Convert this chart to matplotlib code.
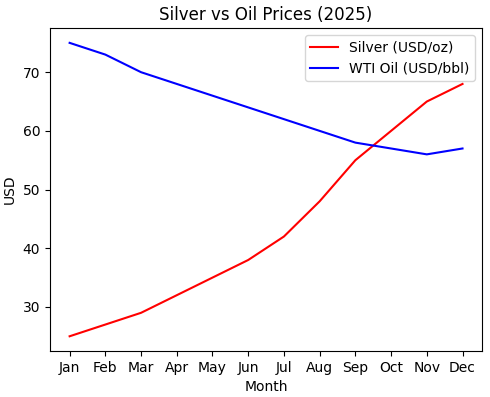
import matplotlib
matplotlib.use("Agg")
import matplotlib.pyplot as plt

months = ['Jan', 'Feb', 'Mar', 'Apr', 'May', 'Jun', 'Jul', 'Aug', 'Sep', 'Oct', 'Nov', 'Dec']
silver = [25, 27, 29, 32, 35, 38, 42, 48, 55, 60, 65, 68] #USD/oz
oil = [75, 73, 70, 68, 66, 64, 62, 60, 58, 57, 56, 57] #USD/bbl

fig = plt.figure(figsize=(4.9, 3.97), dpi=100)
plt.plot(months, silver, 'r-', label='Silver (USD/oz)')
plt.plot(months, oil, 'b-', label='WTI Oil (USD/bbl)')
plt.title("Silver vs Oil Prices (2025)")
plt.xlabel('Month')
plt.ylabel('USD')
plt.legend(loc='upper right')
plt.subplots_adjust(left=0.102, right=0.984, top=0.929, bottom=0.116)
plt.savefig('out.png')
